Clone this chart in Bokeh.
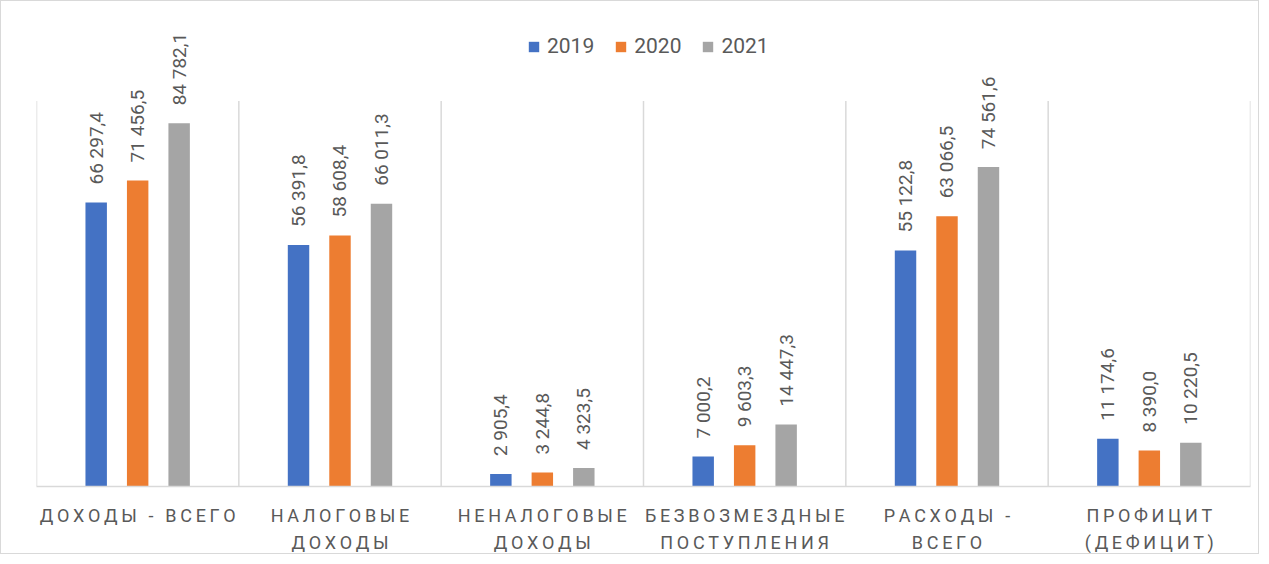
from bokeh.plotting import figure
from bokeh.models import (Range1d, FixedTicker, ColumnDataSource, LabelSet,
                          Legend, LegendItem)
from bokeh.core.properties import value
from bokeh.embed import file_html
from bokeh.resources import INLINE

# ---- data ----
categories = ["ДОХОДЫ - ВСЕГО", "НАЛОГОВЫЕ\nДОХОДЫ", "НЕНАЛОГОВЫЕ\nДОХОДЫ",
              "БЕЗВОЗМЕЗДНЫЕ\nПОСТУПЛЕНИЯ", "РАСХОДЫ -\nВСЕГО", "ПРОФИЦИТ\n(ДЕФИЦИТ)"]
years = ["2019", "2020", "2021"]
v2019 = [66297.4, 56391.8, 2905.4, 7000.2, 55122.8, 11174.6]
v2020 = [71456.5, 58608.4, 3244.8, 9603.3, 63066.5, 8390.0]
v2021 = [84782.1, 66011.3, 4323.5, 14447.3, 74561.6, 10220.5]
series = [v2019, v2020, v2021]
colors = ["#4472C4", "#ED7D31", "#A5A5A5"]
axis_max = 90000

FONT = "Roboto"
TEXT_COLOR = "#595959"
GRID_COLOR = "#D9D9D9"


def fmt(v):
    return f"{v:,.1f}".replace(",", "\u00a0").replace(".", ",")


def spaced(s):
    return "\n".join("\u2009".join(line) for line in s.split("\n"))


n = len(categories)
centers = [i + 0.5 for i in range(n)]
bounds = list(range(n + 1))
offsets = [-0.205, 0.0, 0.205]
bar_w = 0.106

# frame spans 468 px; the value axis (0..axis_max) uses the lower 388 px
y_end = axis_max * 468 / 388

p = figure(width=1259, height=554, x_range=Range1d(0, n), y_range=Range1d(0, y_end),
           output_backend="svg", toolbar_location=None, y_axis_location=None,
           min_border_left=35, min_border_right=10, min_border_top=20,
           min_border_bottom=66)
p.styles = {"border": "1px solid #D9D9D9"}
p.outline_line_color = None
p.background_fill_color = None
p.border_fill_color = None
p.xgrid.visible = False
p.ygrid.visible = False

# category boundaries (vertical grid)
p.segment(x0=bounds, y0=[0] * len(bounds), x1=bounds, y1=[axis_max] * len(bounds),
          line_color=GRID_COLOR, line_width=1.5)

# axis
p.xaxis.ticker = FixedTicker(ticks=centers)
p.xaxis.major_label_overrides = {c: spaced(cat) for c, cat in zip(centers, categories)}
p.xaxis.major_tick_line_color = None
p.xaxis.minor_tick_line_color = None
p.xaxis.major_tick_out = 0
p.xaxis.major_tick_in = 0
p.xaxis.axis_line_color = GRID_COLOR
p.xaxis.axis_line_width = 1.5
p.xaxis.major_label_text_font = FONT
p.xaxis.major_label_text_font_size = "18px"
p.xaxis.major_label_text_color = TEXT_COLOR
p.xaxis.major_label_text_line_height = 1.3
p.xaxis.major_label_standoff = 18

items = []
for yr, vals, col, off in zip(years, series, colors, offsets):
    src = ColumnDataSource(dict(x=[c + off for c in centers], top=vals,
                                label=[fmt(v) for v in vals]))
    r = p.vbar(x="x", top="top", width=bar_w, bottom=0, source=src,
               fill_color=col, line_color=None)
    items.append(LegendItem(label=yr, renderers=[r]))
    labels = LabelSet(x="x", y="top", text="label", source=src, angle=90,
                      angle_units="deg", text_align="left", text_baseline="middle",
                      y_offset=18, text_font=value(FONT), text_font_size="19px",
                      text_color=TEXT_COLOR)
    p.add_layout(labels)

legend = Legend(items=items, orientation="horizontal", location=(491, 428),
                glyph_width=13, glyph_height=13, label_standoff=7, spacing=20,
                padding=0, margin=0, border_line_color=None,
                background_fill_alpha=0, label_text_font=FONT,
                label_text_font_size="21px", label_text_color=TEXT_COLOR)
p.add_layout(legend)

open("out.html", "w").write(file_html(p, INLINE))
